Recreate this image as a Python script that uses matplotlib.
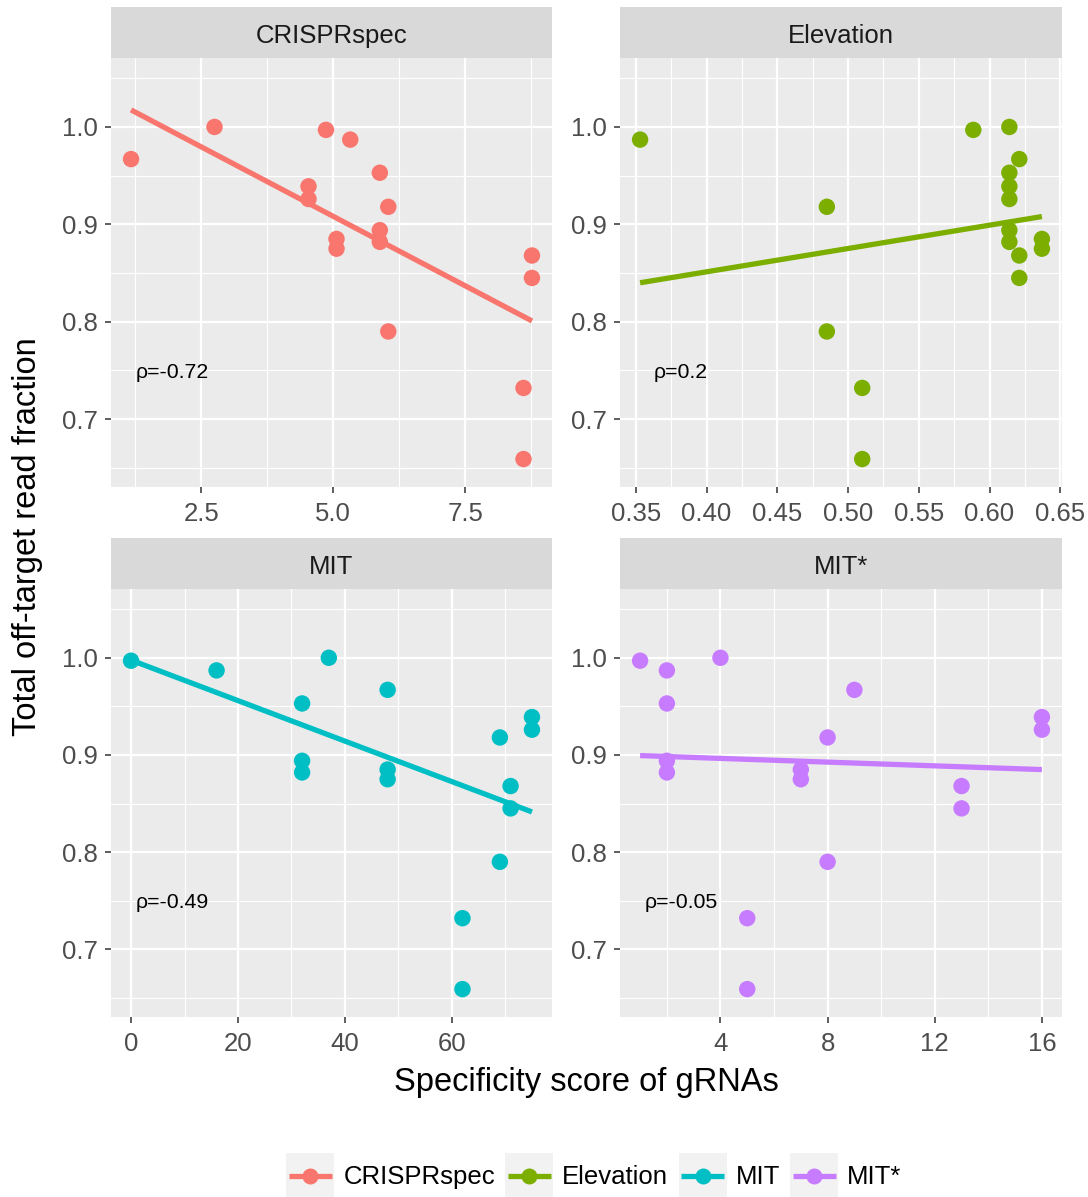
import matplotlib
matplotlib.use('Agg')
import matplotlib.pyplot as plt
import numpy as np
from matplotlib.patches import Rectangle
from matplotlib.lines import Line2D
from matplotlib.legend_handler import HandlerBase

plt.rcParams['font.family'] = ['Liberation Sans', 'DejaVu Sans']

# y values (total off-target read fraction), shared by every panel
read_fraction = [1.000, 0.997, 0.987, 0.967, 0.953, 0.939, 0.926, 0.918, 0.894,
                 0.885, 0.882, 0.875, 0.868, 0.845, 0.790, 0.732, 0.659]

# specificity scores, one list per tool, same order as read_fraction
crisprspec = [2.75, 4.86, 5.32, 1.17, 5.88, 4.53, 4.53, 6.04, 5.88,
              5.06, 5.88, 5.06, 8.76, 8.76, 6.04, 8.60, 8.60]
elevation = [0.614, 0.5885, 0.353, 0.621, 0.614, 0.614, 0.614, 0.485, 0.614,
             0.637, 0.614, 0.637, 0.621, 0.621, 0.485, 0.510, 0.510]
mit = [37, 0, 16, 48, 32, 75, 75, 69, 32, 48, 32, 48, 71, 71, 69, 62, 62]
mit_star = [4, 1, 2, 9, 2, 16, 16, 8, 2, 7, 2, 7, 13, 13, 8, 5, 5]

tools = ['CRISPRspec', 'Elevation', 'MIT', 'MIT*']
scores = [crisprspec, elevation, mit, mit_star]
rho_labels = ['ρ=-0.72', 'ρ=0.2', 'ρ=-0.49', 'ρ=-0.05']
colors = ['#F8766D', '#7CAE00', '#00BFC4', '#C77CFF']

# linear fit lines: slope, intercept
fit_slope = [-0.02855, 0.2394, -0.002083, -0.000960]
fit_intercept = [1.0509, 0.7555, 0.9976, 0.9003]

x_major = [[2.5, 5.0, 7.5],
           [0.35, 0.40, 0.45, 0.50, 0.55, 0.60, 0.65],
           [0, 20, 40, 60],
           [4, 8, 12, 16]]
x_major_labels = [['2.5', '5.0', '7.5'],
                  ['0.35', '0.40', '0.45', '0.50', '0.55', '0.60', '0.65'],
                  ['0', '20', '40', '60'],
                  ['4', '8', '12', '16']]
x_minor = [[1.25, 3.75, 6.25, 8.75],
           [0.375, 0.425, 0.475, 0.525, 0.575, 0.625],
           [10, 30, 50, 70],
           [2, 6, 10, 14]]
y_major = [0.7, 0.8, 0.9, 1.0]
y_major_labels = ['0.7', '0.8', '0.9', '1.0']
y_minor = [0.65, 0.75, 0.85, 0.95, 1.05]
y_lim = (0.6303, 1.0708)

W, H = 1088, 1197
fig = plt.figure(figsize=(W / 100, H / 100), dpi=100)

# panel boxes in pixels (left, top, right, bottom)
boxes = [(111, 58, 552, 487), (620, 58, 1062, 487),
         (111, 589, 552, 1017), (620, 589, 1062, 1017)]
strip_h = 51

for i, (x0, y0, x1, y1) in enumerate(boxes):
    ax = fig.add_axes([x0 / W, 1 - y1 / H, (x1 - x0) / W, (y1 - y0) / H])
    ax.set_facecolor('#EBEBEB')
    for s in ax.spines.values():
        s.set_visible(False)
    ax.set_axisbelow(True)

    xs = np.array(scores[i], dtype=float)
    ys = np.array(read_fraction)
    rng = xs.max() - xs.min()
    ax.set_xlim(xs.min() - 0.05 * rng, xs.max() + 0.05 * rng)
    ax.set_ylim(*y_lim)

    ax.set_xticks(x_major[i])
    ax.set_xticklabels(x_major_labels[i])
    ax.set_xticks(x_minor[i], minor=True)
    ax.set_yticks(y_major)
    ax.set_yticklabels(y_major_labels)
    ax.set_yticks(y_minor, minor=True)
    ax.grid(which='major', color='white', lw=1.6)
    ax.grid(which='minor', color='white', lw=0.8)
    ax.tick_params(which='major', length=4.5, width=1.1, color='#333333',
                   labelsize=18.5, labelcolor='#4D4D4D', pad=5)
    ax.tick_params(axis='x', which='major', pad=6)
    ax.tick_params(which='minor', length=0)

    ax.scatter(xs, ys, s=140, color=colors[i], edgecolors='none', zorder=3)
    xl = np.array([xs.min(), xs.max()])
    ax.plot(xl, fit_slope[i] * xl + fit_intercept[i], color=colors[i], lw=3.8,
            solid_capstyle='butt', zorder=4)

    ax.text(0.138, 0.748, rho_labels[i], transform=ax.get_yaxis_transform(),
            ha='center', va='center', fontsize=15.3, color='black')

    sh = strip_h / (y1 - y0)
    ax.add_patch(Rectangle((0, 1), 1, sh, transform=ax.transAxes,
                           facecolor='#D9D9D9', edgecolor='none', clip_on=False))
    ax.text(0.5, 1 + 15.3 / (y1 - y0), tools[i], transform=ax.transAxes, ha='center',
            va='baseline', fontsize=18.5, color='#1A1A1A')

fig.text(586.5 / W, 1 - 1083 / H, 'Specificity score of gRNAs',
         ha='center', va='center', fontsize=23.5)
fig.text(28 / W, 1 - 537 / H, 'Total off-target read fraction',
         ha='center', va='center', rotation=90, fontsize=23.5)


class KeyHandler(HandlerBase):
    def create_artists(self, legend, orig_handle, xdescent, ydescent,
                       width, height, fontsize, trans):
        x0, y0 = -xdescent, -ydescent
        yc = y0 + height / 2
        bg = Rectangle((x0, y0), width, height, facecolor='#F2F2F2',
                       edgecolor='none', transform=trans)
        ln = Line2D([x0 + 2, x0 + width - 2], [yc, yc], color=orig_handle.get_color(),
                    lw=orig_handle.get_linewidth(), solid_capstyle='butt', transform=trans)
        pt = Line2D([x0 + width / 2], [yc], marker='o', ls='none', ms=11.5,
                    markerfacecolor=orig_handle.get_color(), markeredgecolor='none',
                    transform=trans)
        return [bg, ln, pt]


handles = [Line2D([], [], color=c, lw=3.8) for c in colors]
fig.legend(handles, tools, loc='center', bbox_to_anchor=(594 / W, 1 - 1176 / H),
           ncol=4, frameon=False, fontsize=18.5, handler_map={Line2D: KeyHandler()},
           handlelength=1.87, handleheight=2.32, handletextpad=0.35,
           columnspacing=0.4, borderpad=0, borderaxespad=0)

fig.savefig('out.png', dpi=100)
